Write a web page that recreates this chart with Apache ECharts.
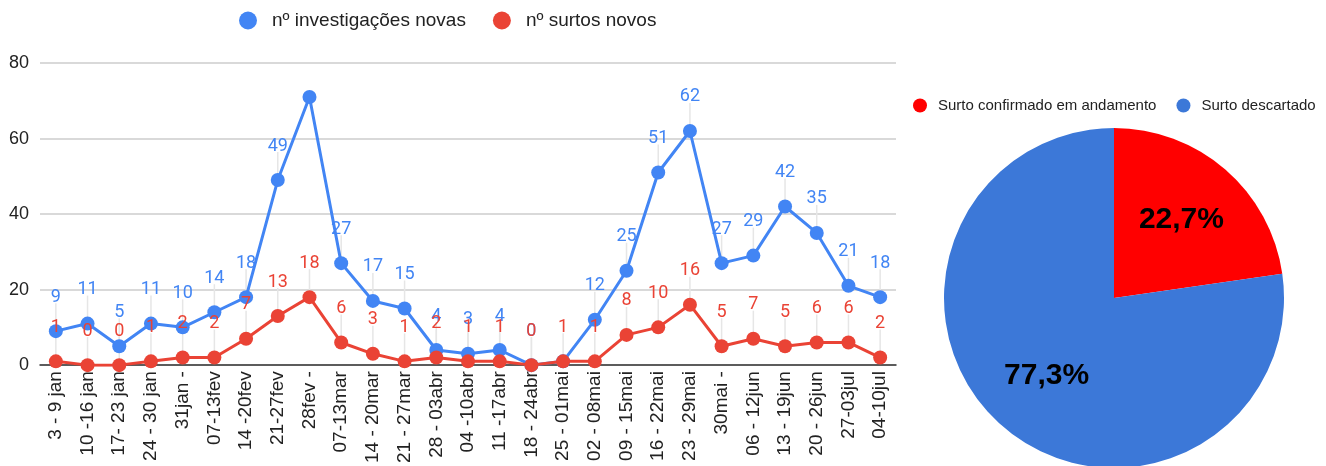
<!DOCTYPE html>
<html>
<head>
<meta charset="utf-8">
<script src="https://cdn.jsdelivr.net/npm/echarts@6/dist/echarts.min.js"></script>
<style>
  html, body { margin: 0; padding: 0; background: #fff; }
  #chart { width: 1326px; height: 466px; }
</style>
</head>
<body>
<div id="chart"></div>
<script>
// semanas
const categories = [
  '3 - 9 jan', '10 -16 jan', '17- 23 jan', '24 - 30 jan', '31jan -', '07-13fev', '14 -20fev',
  '21-27fev', '28fev -', '07-13mar', '14 - 20mar', '21 - 27mar', '28 - 03abr', '04 -10abr',
  '11 -17abr', '18 - 24abr', '25 - 01mai', '02 - 08mai', '09 - 15mai', '16 - 22mai', '23 - 29mai',
  '30mai -', '06 - 12jun', '13 - 19jun', '20 - 26jun', '27-03jul', '04-10jul'
];
const investigacoes = [9, 11, 5, 11, 10, 14, 18, 49, 71, 27, 17, 15, 4, 3, 4, 0, 1, 12, 25, 51, 62, 27, 29, 42, 35, 21, 18];
const surtos = [1, 0, 0, 1, 2, 2, 7, 13, 18, 6, 3, 1, 2, 1, 1, 0, 1, 1, 8, 10, 16, 5, 7, 5, 6, 6, 2];
// rótulos escondidos no original
const hiddenInvLabels = [8, 16];

const pieNames = ['Surto confirmado em andamento', 'Surto descartado'];
const pieValues = [5, 17];
const pieColors = ['#ff0000', '#3c78d8'];

const yTicks = [0, 20, 40, 60, 80];

const chart = echarts.init(document.getElementById('chart'));

const invData = investigacoes.map((v, i) =>
  hiddenInvLabels.includes(i) ? { value: v, label: { show: false } } : v);

const pieData = pieNames.map((n, i) => ({ name: n, value: pieValues[i], itemStyle: { color: pieColors[i] } }));

const fmtPct = p => p.percent.toFixed(1).replace('.', ',') + '%';

// hastes cinzas entre o ponto e o rótulo
function stemSeries(values, skip) {
  return {
    type: 'custom',
    silent: true,
    z: 1,
    data: values.map((v, i) => [i, v]),
    renderItem: (params, api) => {
      if (skip && skip.includes(params.dataIndex)) return null;
      const p = api.coord([api.value(0), api.value(1)]);
      return {
        type: 'line',
        shape: { x1: p[0], y1: p[1], x2: p[0], y2: p[1] - 28 },
        style: { stroke: '#e6e6e6', lineWidth: 1.5 }
      };
    }
  };
}

const option = {
  animation: false,
  textStyle: { fontFamily: 'Arial, "Liberation Sans", sans-serif' },
  legend: [
    {
      data: ['nº investigações novas', 'nº surtos novos'],
      left: 234, top: 6,
      icon: 'circle', itemWidth: 18, itemHeight: 18, itemGap: 27,
      textStyle: { fontSize: 19, color: '#222', padding: [0, 0, 0, 10] }
    },
    {
      data: pieNames,
      left: 908, top: 93,
      icon: 'circle', itemWidth: 14, itemHeight: 14, itemGap: 20,
      textStyle: { fontSize: 15, color: '#222', padding: [0, 0, 0, 6] }
    }
  ],
  grid: { left: 40, right: 430, top: 63, bottom: 100, containLabel: false },
  xAxis: {
    type: 'category',
    data: categories,
    boundaryGap: true,
    axisLine: { lineStyle: { color: '#333', width: 1.5 } },
    axisTick: { show: false },
    axisLabel: { rotate: 90, interval: 0, fontSize: 19, color: '#222', margin: 6 }
  },
  yAxis: {
    type: 'value',
    min: yTicks[0], max: yTicks[yTicks.length - 1], interval: 20,
    axisLine: { show: false },
    axisTick: { show: false },
    splitLine: { lineStyle: { color: '#cccccc', width: 1.5 } },
    axisLabel: { fontSize: 18, color: '#222', margin: 11 }
  },
  series: [
    stemSeries(investigacoes, hiddenInvLabels),
    stemSeries(surtos),
    {
      name: 'nº investigações novas',
      type: 'line',
      data: invData,
      color: '#4285f4',
      symbol: 'circle', symbolSize: 14,
      lineStyle: { width: 3 },
      label: { show: true, position: 'top', distance: 18, fontSize: 18, color: '#4285f4', fontFamily: 'Roboto' },
      z: 2
    },
    {
      name: 'nº surtos novos',
      type: 'line',
      data: surtos,
      color: '#ea4335',
      symbol: 'circle', symbolSize: 14,
      lineStyle: { width: 3 },
      label: { show: true, position: 'top', distance: 18, fontSize: 18, color: '#ea4335', fontFamily: 'Roboto' },
      z: 3
    },
    {
      type: 'pie',
      center: [1114, 298],
      radius: [0, 170],
      startAngle: 90,
      clockwise: true,
      data: pieData,
      label: { show: false },
      labelLine: { show: false },
      emphasis: { disabled: true }
    },
    {
      // anel transparente só para posicionar os rótulos
      type: 'pie',
      center: [1114, 298],
      radius: [30, 170],
      startAngle: 90,
      clockwise: true,
      silent: true,
      legendHoverLink: false,
      data: pieNames.map((n, i) => ({ name: n + ' ', value: pieValues[i], itemStyle: { color: 'rgba(0,0,0,0)' } })),
      label: { show: true, position: 'inside', formatter: fmtPct, fontSize: 30, fontWeight: 'bold', color: '#000' },
      labelLine: { show: false }
    }
  ]
};

chart.setOption(option);
</script>
</body>
</html>
